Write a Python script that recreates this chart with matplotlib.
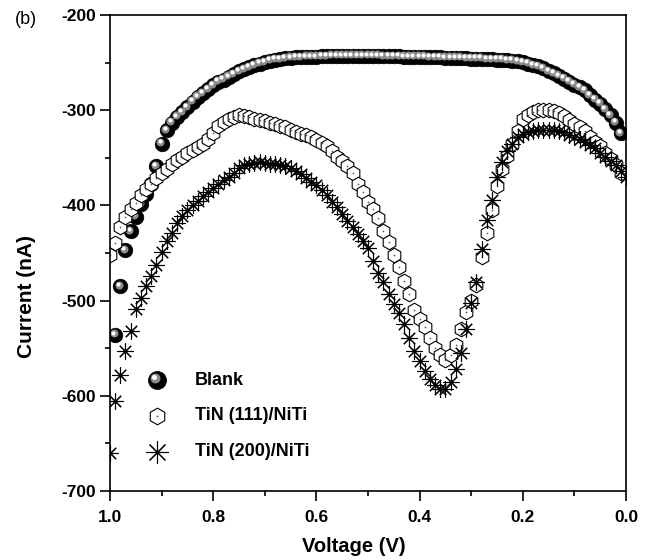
import matplotlib
matplotlib.use("Agg")
import matplotlib.pyplot as plt
from matplotlib.ticker import MultipleLocator, FuncFormatter
from matplotlib.transforms import ScaledTranslation
import numpy as np

# Voltage sweep (V), 1.00 -> 0.00
voltage = [
    1.00, 0.99, 0.98, 0.97, 0.96, 0.95, 0.94, 0.93, 0.92, 0.91,
    0.90, 0.89, 0.88, 0.87, 0.86, 0.85, 0.84, 0.83, 0.82, 0.81,
    0.80, 0.79, 0.78, 0.77, 0.76, 0.75, 0.74, 0.73, 0.72, 0.71,
    0.70, 0.69, 0.68, 0.67, 0.66, 0.65, 0.64, 0.63, 0.62, 0.61,
    0.60, 0.59, 0.58, 0.57, 0.56, 0.55, 0.54, 0.53, 0.52, 0.51,
    0.50, 0.49, 0.48, 0.47, 0.46, 0.45, 0.44, 0.43, 0.42, 0.41,
    0.40, 0.39, 0.38, 0.37, 0.36, 0.35, 0.34, 0.33, 0.32, 0.31,
    0.30, 0.29, 0.28, 0.27, 0.26, 0.25, 0.24, 0.23, 0.22, 0.21,
    0.20, 0.19, 0.18, 0.17, 0.16, 0.15, 0.14, 0.13, 0.12, 0.11,
    0.10, 0.09, 0.08, 0.07, 0.06, 0.05, 0.04, 0.03, 0.02, 0.01,
    0.00,
]

# Current (nA)
blank = [
    np.nan, -536, -485, -447, -427, -412, -399, -388, -378, -359,
    -335, -321, -313, -307, -302, -297, -291, -286, -282, -278,
    -274, -270, -268, -265, -262, -259, -257, -255, -253, -251,
    -249.5, -248, -247, -246.5, -245.5, -245, -244.5, -244.5, -244, -244,
    -244, -243.5, -243.5, -243, -243, -243, -243, -243, -243, -243,
    -243, -243, -243, -243.5, -243.5, -243.5, -243.5, -244, -244, -244,
    -244, -244, -244.5, -244.5, -244.5, -245, -245, -245, -245, -245.5,
    -246, -246, -246, -246.5, -246.5, -247, -247, -247.5, -248, -248.5,
    -249.5, -251, -252.5, -254, -256, -259, -261, -264, -267, -270,
    -273, -276, -279, -284, -289, -293, -299, -305, -313, -324,
    np.nan,
]

tin_111 = [
    -452, -440, -423, -412, -404, -397, -389, -383, -377, -371,
    -366, -362, -357, -352, -349, -345, -342, -339, -335, -330,
    -324, -317, -312, -309, -307, -305, -306, -307.5, -309, -310.5,
    -311.5, -313, -315, -316.5, -318, -320.5, -322.5, -324.5, -326.5, -328.5,
    -331, -334, -338, -343, -349, -353, -359, -366, -377, -386,
    -396, -404, -413, -427, -438, -452, -465, -479, -493, -510,
    -519, -528, -539, -550, -557, -562, -557, -547, -530, -512,
    -500, -484, -454, -429, -405, -380, -362, -348, -336, -322,
    -309, -305, -302, -300, -300, -300, -301, -303, -306, -310,
    -314, -318, -322, -328, -333, -338, -345, -351, -358, -366,
    np.nan,
]

tin_200 = [
    -660, -605, -578, -553, -532, -509, -497, -485, -474, -463,
    -449, -437, -429, -419, -411, -405, -400, -395, -390, -386,
    -382, -377, -373, -370, -366, -361, -358, -356, -355, -354,
    -355, -356, -357, -358, -359, -361, -364, -367, -371, -375,
    -379, -384, -389, -396, -402, -409, -416, -423, -430, -437,
    -445, -458, -471, -480, -493, -504, -513, -525, -539, -553,
    -563, -574, -582, -589, -593, -593, -586, -572, -555, -530,
    -502, -480, -446, -415, -394, -370, -354, -343, -335, -328,
    -325, -323, -322, -321, -321, -321, -321, -322, -323, -326,
    -328, -330, -333, -337, -340, -345, -349, -353, -358, -364,
    -370,
]

labels = ["Blank", "TiN (111)/NiTi", "TiN (200)/NiTi"]

STAR = (8, 2, 0)


def draw_spheres(fig, ax, x, y, size, base):
    """black ball with a grey/white highlight, up-left"""
    ax.plot(x, y, "o", ms=size, mfc="black", mec="black", mew=0.5,
            ls="none", transform=base)
    shift1 = base + ScaledTranslation(-size * 0.10 / 72, size * 0.10 / 72,
                                      fig.dpi_scale_trans)
    ax.plot(x, y, "o", ms=size * 0.55, mfc="#8a8a8a", mec="none",
            ls="none", transform=shift1)
    shift2 = base + ScaledTranslation(-size * 0.14 / 72, size * 0.16 / 72,
                                      fig.dpi_scale_trans)
    ax.plot(x, y, "o", ms=size * 0.28, mfc="white", mec="none",
            ls="none", transform=shift2)


def draw_hex(ax, x, y, size, base):
    ax.plot(x, y, "h", ms=size, mfc="white", mec="black", mew=0.8,
            ls="none", transform=base)
    ax.plot(x, y, "o", ms=1.2, mfc="#555555", mec="none",
            ls="none", transform=base)


def draw_star(ax, x, y, size, base):
    ax.plot(x, y, marker=STAR, ms=size, mec="black", mew=0.8,
            ls="none", transform=base)
    ax.plot(x, y, "o", ms=1.8, mfc="black", mec="none",
            ls="none", transform=base)


def main():
    plt.rcParams["font.family"] = ["Liberation Sans", "DejaVu Sans"]
    plt.rcParams["axes.unicode_minus"] = False

    fig = plt.figure(figsize=(6.56, 5.6), dpi=100)
    ax = fig.add_axes([0.1677, 0.1232, 0.7866, 0.85])

    draw_spheres(fig, ax, voltage, blank, 10.5, ax.transData)
    draw_hex(ax, voltage, tin_111, 10.5, ax.transData)
    draw_star(ax, voltage, tin_200, 11.5, ax.transData)

    # legend drawn by hand, inside the axes
    ta = ax.transAxes
    leg_y = [0.233, 0.158, 0.082]
    draw_spheres(fig, ax, [0.091], [leg_y[0]], 13, ta)
    draw_hex(ax, [0.091], [leg_y[1]], 12, ta)
    draw_star(ax, [0.091], [leg_y[2]], 16, ta)
    for yy, lab in zip(leg_y, labels):
        ax.text(0.165, yy, lab, transform=ta, fontsize=13,
                fontweight="bold", va="center", ha="left")

    ax.set_xlim(1.0, 0.0)
    ax.set_ylim(-700, -200)
    ax.xaxis.set_major_locator(MultipleLocator(0.2))
    ax.xaxis.set_minor_locator(MultipleLocator(0.1))
    ax.yaxis.set_major_locator(MultipleLocator(100))
    ax.yaxis.set_minor_locator(MultipleLocator(50))
    ax.xaxis.set_major_formatter(FuncFormatter(lambda v, p: f"{abs(v):.1f}"))
    ax.yaxis.set_major_formatter(FuncFormatter(lambda v, p: f"{int(v)}"))

    ax.tick_params(which="both", direction="out", top=False, right=False,
                   width=1.2)
    ax.tick_params(which="major", length=7)
    ax.tick_params(which="minor", length=3.5)
    ax.tick_params(axis="x", pad=7)
    ax.tick_params(axis="y", pad=3)
    for t in ax.get_xticklabels() + ax.get_yticklabels():
        t.set_fontweight("bold")
        t.set_fontsize(12.5)
    for s in ax.spines.values():
        s.set_linewidth(1.2)

    fig.text(354 / 656, 1 - 546 / 560, "Voltage (V)", fontsize=14.5,
             fontweight="bold", ha="center", va="center")
    fig.text(26 / 656, 1 - 297 / 560, "Current (nA)", fontsize=15,
             fontweight="bold", ha="center", va="center", rotation=90)
    fig.text(26 / 656, 1 - 20 / 560, "(b)", fontsize=13,
             ha="center", va="center")

    fig.savefig("out.png", dpi=100)


if __name__ == "__main__":
    main()
